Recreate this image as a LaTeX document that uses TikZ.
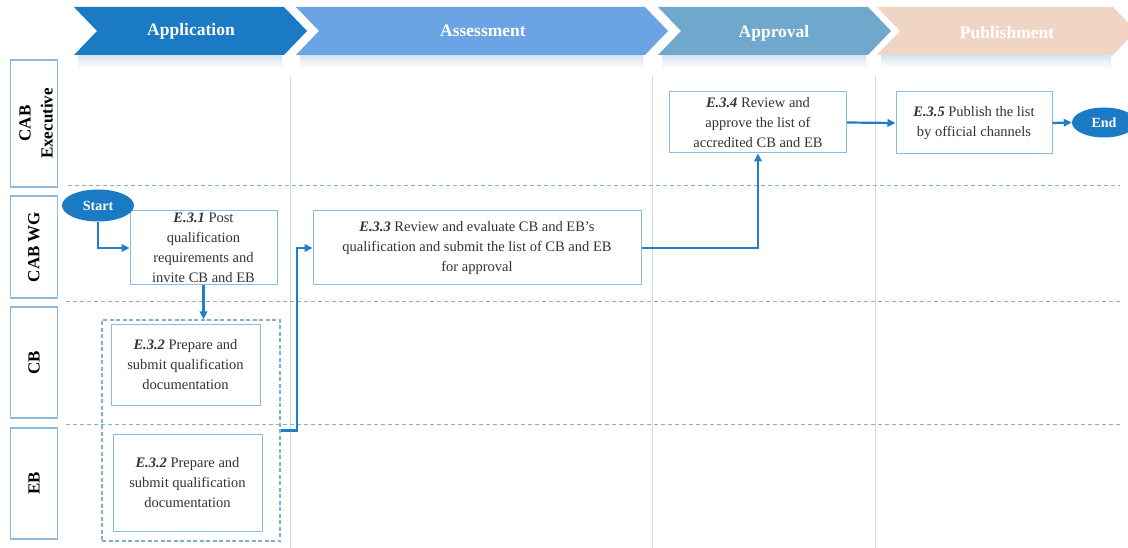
\documentclass[tikz,border=0pt]{standalone}
\usepackage{fontspec}
\setmainfont{Liberation Serif}
\usetikzlibrary{arrows.meta,shapes.geometric}

\definecolor{bannerA}{HTML}{1A7BC4}
\definecolor{bannerB}{HTML}{6AA4E4}
\definecolor{bannerC}{HTML}{6FA8CC}
\definecolor{bannerD}{HTML}{F0D5C5}
\definecolor{glow}{HTML}{7FA9D6}
\definecolor{boxline}{HTML}{8DBBDF}
\definecolor{laneline}{HTML}{7EB0D8}
\definecolor{flow}{HTML}{1F7FCC}
\definecolor{txt}{HTML}{333333}
\definecolor{grid}{HTML}{D9D9D9}

\begin{document}
\begin{tikzpicture}[x=1pt,y=-1pt,
  bannertext/.style={text=white, font=\fontsize{17.5}{20}\selectfont\bfseries},
  lanebox/.style={draw=boxline, line width=1.8pt, fill=white, minimum width=47, inner sep=0pt},
  lanetext/.style={rotate=90, font=\fontsize{17}{22}\selectfont\bfseries, text=black, align=center},
  lanesep/.style={draw=laneline, line width=0.9pt, dash pattern=on 4pt off 3pt},
  colsep/.style={draw=grid, line width=0.9pt},
  stepbox/.style={draw=boxline, line width=1pt, fill=white, text=txt,
    font=\fontsize{14.5}{20}\selectfont, align=center, inner sep=0pt},
  terminal/.style={ellipse, fill=bannerA, text=white, inner sep=0pt,
    font=\fontsize{14}{16}\selectfont\bfseries},
  groupbox/.style={draw=laneline, line width=1.3pt, dash pattern=on 4pt off 2.5pt, inner sep=0pt},
  flowline/.style={draw=flow, line width=2.2pt, -{Triangle[length=8pt,width=7.5pt]}}
]
\useasboundingbox (0,0) rectangle (1128,548);
\clip (0,0) rectangle (1128,548);
\fill[white] (0,0) rectangle (1128,548);

% soft glow under the phase banners
\foreach \d/\o in {2/0.08,4/0.07,6/0.06,8/0.05,10/0.04,12/0.03,14/0.02} {
  \fill[glow, opacity=\o]
    (78,55) rectangle (282,55+\d) (300,55) rectangle (643,55+\d)
    (662,55) rectangle (866,55+\d) (881,55) rectangle (1111,55+\d);
}

% phase banners
\fill[bannerD] (877,7) -- (1113,7) -- (1136,31) -- (1113,55) -- (877,55) -- (900,31) -- cycle;
\fill[bannerC] (658,7) -- (868,7) -- (891,31) -- (868,55) -- (658,55) -- (681,31) -- cycle;
\fill[bannerB] (296,7) -- (645,7) -- (668,31) -- (645,55) -- (296,55) -- (319,31) -- cycle;
\fill[bannerA] (74,7) -- (284,7) -- (307,31) -- (284,55) -- (74,55) -- (97,31) -- cycle;
\node[bannertext] (hApp) at (191,31) {Application};
\node[bannertext] (hAss) at (483,31) {Assessment};
\node[bannertext] (hApr) at (774,33) {Approval};
\node[bannertext] (hPub) at (1007,33) {Publishment};

% column separators
\draw[colsep] (290,76) -- (290,548);
\draw[colsep] (652,76) -- (652,548);
\draw[colsep] (875,76) -- (875,548);

% lane separators
\draw[lanesep] (68,185) -- (1120,185);
\draw[lanesep] (66,301) -- (1120,301);
\draw[lanesep] (66,424) -- (1120,424);

% lane headers
\node[lanebox, minimum height=127] (lExec) at (34,123.5) {};
\node[lanetext] (tExec) at (36,123.5) {CAB\\Executive};
\node[lanebox, minimum height=102] (lWG) at (34,247) {};
\node[lanetext] (tWG) at (34,247) {CAB WG};
\node[lanebox, minimum height=111] (lCB) at (34,362.5) {};
\node[lanetext] (tCB) at (34,362.5) {CB};
\node[lanebox, minimum height=111] (lEB) at (34,483.5) {};
\node[lanetext] (tEB) at (34,483.5) {EB};

% process steps
\node[groupbox, minimum width=178, minimum height=221] (grp) at (191,430.5) {};
\node[stepbox, minimum width=147, minimum height=74] (e31) at (203.5,248)
  {\textbf{\textit{E.3.1}} Post\\qualification\\requirements and\\invite CB and EB};
\node[stepbox, minimum width=149, minimum height=80] (e32a) at (185.5,365)
  {\textbf{\textit{E.3.2}} Prepare and\\submit qualification\\documentation};
\node[stepbox, minimum width=149, minimum height=97] (e32b) at (187.5,482.5)
  {\textbf{\textit{E.3.2}} Prepare and\\submit qualification\\documentation};
\node[stepbox, minimum width=328, minimum height=74] (e33) at (477,248)
  {\textbf{\textit{E.3.3}} Review and evaluate CB and EB’s\\qualification and submit the list of CB and EB\\for approval};
\node[stepbox, minimum width=177, minimum height=61] (e34) at (758,122.5)
  {\textbf{\textit{E.3.4}} Review and\\approve the list of\\accredited CB and EB};
\node[stepbox, minimum width=156, minimum height=62] (e35) at (974,123)
  {\textbf{\textit{E.3.5}} Publish the list\\by official channels};

\node[terminal, minimum width=72, minimum height=32] (start) at (98,205.5) {Start};
\node[terminal, minimum width=64, minimum height=30] (end) at (1104,122.5) {End};

% flow
\draw[flowline] (start.south) |- (e31.west);
\draw[flowline] (e31.south) -- (e31.south |- grp.north);
\draw[flowline] (grp.east) -- ++(16,0) |- (e33.west);
\draw[flowline] (e33.east) -| (e34.south);
\draw[flowline] (e34.east) -- (e35.west);
\draw[flowline] (e35.east) -- (end.west);
\end{tikzpicture}
\end{document}
